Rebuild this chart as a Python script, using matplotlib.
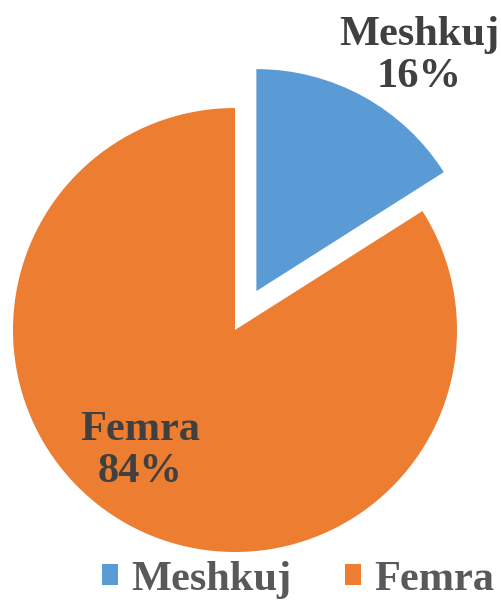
import matplotlib
matplotlib.use("Agg")
import matplotlib.pyplot as plt
from matplotlib.patches import Patch

categories = ["Meshkuj", "Femra"]
values = [16, 84]
colors = ["#5B9BD5", "#ED7D31"]

W, H = 502, 603
fig = plt.figure(figsize=(W / 100, H / 100), dpi=100)
ax = fig.add_axes([0, 0, 1, 1])

R = 222.0  # pixel radius
cx, cy = 235.0, 330.0  # pie center (pixels from top-left)

wedges, _ = ax.pie(values, colors=colors, startangle=90, counterclock=False,
                   explode=[0.2, 0], radius=1.0)
ax.set_aspect('auto')
ax.set_xlim(-cx / R, (W - cx) / R)
ax.set_ylim(-(H - cy) / R, cy / R)
ax.axis('off')

fs = 30.5
font = dict(family="Liberation Serif", weight="bold", size=fs, color="#404040")
fig.text(419 / W, 1 - 56 / H, f"{categories[0]}\n{values[0]}%", ha="center", va="center",
         linespacing=1.12, **font)
fig.text(140 / W, 1 - 451 / H, f"{categories[1]}\n{values[1]}%", ha="center", va="center",
         linespacing=1.12, **font)

handles = [Patch(facecolor=c, edgecolor='none') for c in colors]
fig.legend(handles, categories, loc="center", bbox_to_anchor=(298 / W, 1 - 580 / H),
           ncol=2, frameon=False, handlelength=0.38, handleheight=0.38,
           handletextpad=0.3, columnspacing=1.27, borderpad=0, borderaxespad=0,
           prop=dict(family="Liberation Serif", weight="bold", size=fs),
           labelcolor="#595959")

fig.savefig("out.png", dpi=100)
